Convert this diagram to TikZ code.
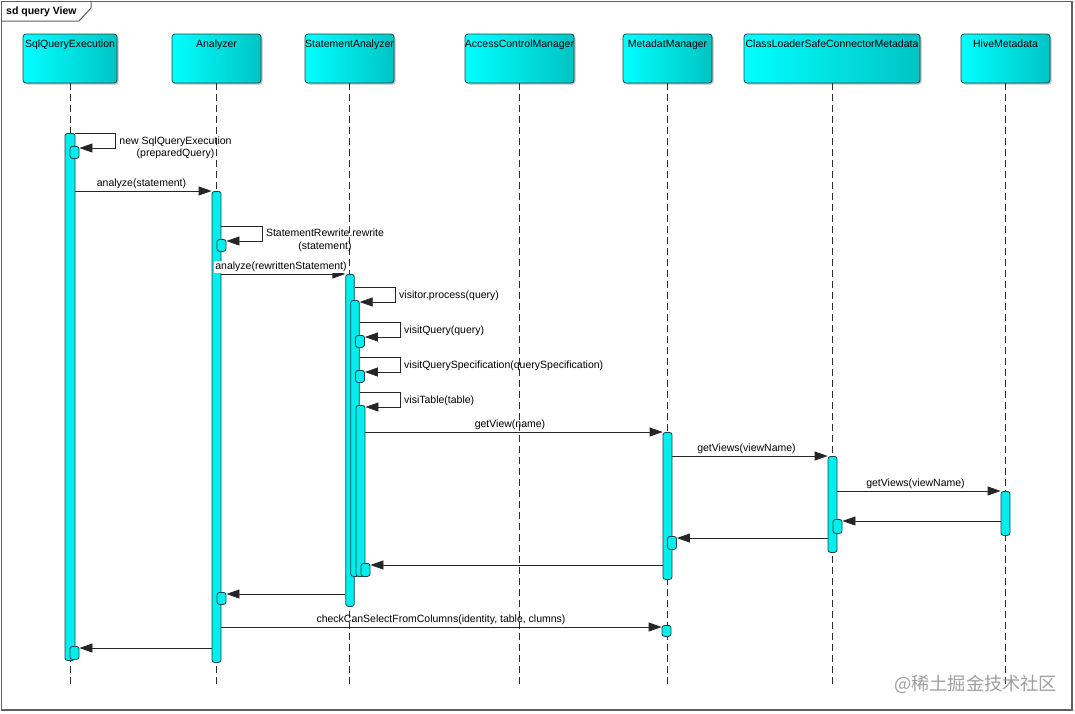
\documentclass[tikz,border=0pt]{standalone}
\usepackage{fontspec}
\setmainfont{Liberation Sans}
\newfontfamily\cjkfont{Noto Sans CJK SC}
\usetikzlibrary{arrows.meta,shadows,calc}
\definecolor{bord}{RGB}{25,70,75}
\definecolor{cyanA}{RGB}{0,255,255}
\definecolor{cyanB}{RGB}{0,196,196}
\definecolor{actfill}{RGB}{0,238,238}
\definecolor{life}{RGB}{45,45,45}
\definecolor{frm}{RGB}{95,95,95}
\begin{document}
\begin{tikzpicture}[x=1pt,y=-1pt,
 every node/.style={font=\fontsize{10.5}{12.5}\selectfont},
 hdr/.style={draw=bord, line width=0.8pt, rounded corners=3pt, left color=cyanA, right color=cyanB,
   minimum height=49pt, inner sep=0pt,
   drop shadow={shadow xshift=1.5pt,shadow yshift=-1.5pt,opacity=0.25,fill=black}},
 lifeln/.style={draw=life, line width=1pt, dash pattern=on 7pt off 4pt},
 act/.style={draw=bord, fill=actfill, line width=0.8pt, rounded corners=2.5pt, minimum width=9pt, inner sep=0pt, anchor=north},
 msg/.style={draw=black!85, line width=0.8pt, -{Triangle[length=13pt,width=9pt]}},
 txt/.style={inner sep=0pt},
 hl/.style={anchor=north, yshift=-6pt, inner sep=0pt},
]
\useasboundingbox (0,0) rectangle (1075,713);
% frame
\draw[frm, line width=1.2pt] (1.5,1.5) rectangle (1072,710);
\draw[frm, line width=1pt] (1.5,21) -- (79,21) -- (91,8) -- (91,1.5);
\node[txt, anchor=west, font=\bfseries\fontsize{10.5}{12}\selectfont] (title) at (6,12) {sd query View};

% headers
\node[hdr, minimum width=94pt, label={[hl]north:SqlQueryExecution}] (sqe) at (70,58.5) {};
\node[hdr, minimum width=89pt, label={[hl]north:Analyzer}] (ana) at (216.5,58.5) {};
\node[hdr, minimum width=89pt, label={[hl]north:StatementAnalyzer}] (sta) at (349.5,58.5) {};
\node[hdr, minimum width=109pt, label={[hl]north:AccessControlManager}] (acm) at (519.5,58.5) {};
\node[hdr, minimum width=89pt, label={[hl]north:MetadatManager}] (mdm) at (667.5,58.5) {};
\node[hdr, minimum width=176pt, label={[hl]north:ClassLoaderSafeConnectorMetadata}] (clm) at (832,58.5) {};
\node[hdr, minimum width=89pt, label={[hl]north:HiveMetadata}] (hvm) at (1005.5,58.5) {};

% lifelines
\coordinate (bot) at (0,686);
\foreach \h in {sqe,ana,sta,acm,mdm,clm,hvm}
  \draw[lifeln] (\h.south) -- (\h.south |- bot);

% activations
\node[act, minimum width=10pt, minimum height=527pt] (sq1) at (70,133) {};
\node[act, minimum height=471pt] (an1) at (216.5,191) {};
\node[act, minimum width=8.5pt, minimum height=332pt] (st1) at (350,274) {};
\node[act, minimum width=8.5pt, minimum height=276pt] (st2) at (355,300) {};
\node[act, minimum height=12pt] (st3) at (360,335) {};
\node[act, minimum height=12pt] (st4) at (360,370) {};
\node[act, minimum height=171pt] (st5) at (360.5,405) {};
\node[act, minimum height=147pt] (md1) at (667.5,432) {};
\node[act, minimum height=96pt] (cl1) at (832.5,456) {};
\node[act, minimum height=44pt] (hv1) at (1005.5,491) {};
\node[act, minimum height=12pt] (sq2) at (74.5,146) {};
\node[act, minimum height=12pt] (an2) at (221.5,239) {};
\node[act, minimum height=14pt] (cl2) at (837.5,519) {};
\node[act, minimum height=13pt] (md2) at (672,536) {};
\node[act, minimum height=13pt] (st6) at (365.5,563) {};
\node[act, minimum height=12pt] (an3) at (221.5,592) {};
\node[act, minimum height=11pt] (md3) at (666.5,625) {};
\node[act, minimum height=13pt] (sq3) at (74.5,646) {};

% self calls
\draw[msg] ($(sq1.east |- sq2.north)+(0,-13)$) -- ++(40,0) |- ([yshift=-2pt]sq2.north east);
\node[txt, align=center] (m1) at (175.5,148) {new SqlQueryExecution\\(preparedQuery)};

\draw[msg] ($(an1.east |- an2.north)+(0,-13)$) -- ++(41,0) |- ([yshift=-2pt]an2.north east);
\node[txt, align=center] (m3) at (325,240.5) {StatementRewrite.rewrite\\(statement)};

\draw[msg] ($(st1.east |- st2.north)+(0,-13)$) -- ++(41,0) |- ([yshift=-2pt]st2.north east);
\node[txt, anchor=west] (m5) at (399,296) {visitor.process(query)};

\draw[msg] ($(st2.east |- st3.north)+(0,-13)$) -- ++(41,0) |- ([yshift=-2pt]st3.north east);
\node[txt, anchor=west] (m6) at (404,331) {visitQuery(query)};

\draw[msg] ($(st2.east |- st4.north)+(0,-13)$) -- ++(41,0) |- ([yshift=-2pt]st4.north east);
\node[txt, anchor=west] (m7) at (404,366) {visitQuerySpecification(querySpecification)};

\draw[msg] ($(st2.east |- st5.north)+(0,-13)$) -- ++(41,0) |- ([yshift=-2pt]st5.north east);
\node[txt, anchor=west] (m8) at (404,401) {visiTable(table)};

% calls
\draw[msg] (sq1.east |- an1.north) -- (an1.north west);
\node[txt] (m2) at (141.5,184) {analyze(statement)};

\draw[msg] (an1.east |- st1.north) -- (st1.north west);
\node[txt, fill=white, inner xsep=1pt, inner ysep=1pt] (m4) at (281,267) {analyze(rewrittenStatement)};

\draw[msg] (st5.east |- md1.north) -- (md1.north west);
\node[txt] (m9) at (510,425) {getView(name)};

\draw[msg] (md1.east |- cl1.north) -- (cl1.north west);
\node[txt] (m10) at (746.5,449) {getViews(viewName)};

\draw[msg] (cl1.east |- hv1.north) -- (hv1.north west);
\node[txt] (m11) at (915.5,484) {getViews(viewName)};

% returns
\draw[msg] ($(hv1.west |- cl2.north)+(0,2)$) -- ([yshift=-2pt]cl2.north east);
\draw[msg] ($(cl1.west |- md2.north)+(0,2)$) -- ([yshift=-2pt]md2.north east);
\draw[msg] ($(md1.west |- st6.north)+(0,2)$) -- ([yshift=-2pt]st6.north east);
\draw[msg] ($(st1.west |- an3.north)+(0,2)$) -- ([yshift=-2pt]an3.north east);

\draw[msg] ($(an1.east |- md3.north)+(0,2)$) -- ([yshift=-2pt]md3.north west);
\node[txt] (m12) at (441,620) {checkCanSelectFromColumns(identity, table, clumns)};

\draw[msg] ($(an1.west |- sq3.north)+(0,2)$) -- ([yshift=-2pt]sq3.north east);

% watermark
\node[txt, anchor=west, text=black!38, font=\cjkfont\fontsize{18.2}{18}\selectfont] (wm) at (894,684) {@稀土掘金技术社区};
\end{tikzpicture}
\end{document}
